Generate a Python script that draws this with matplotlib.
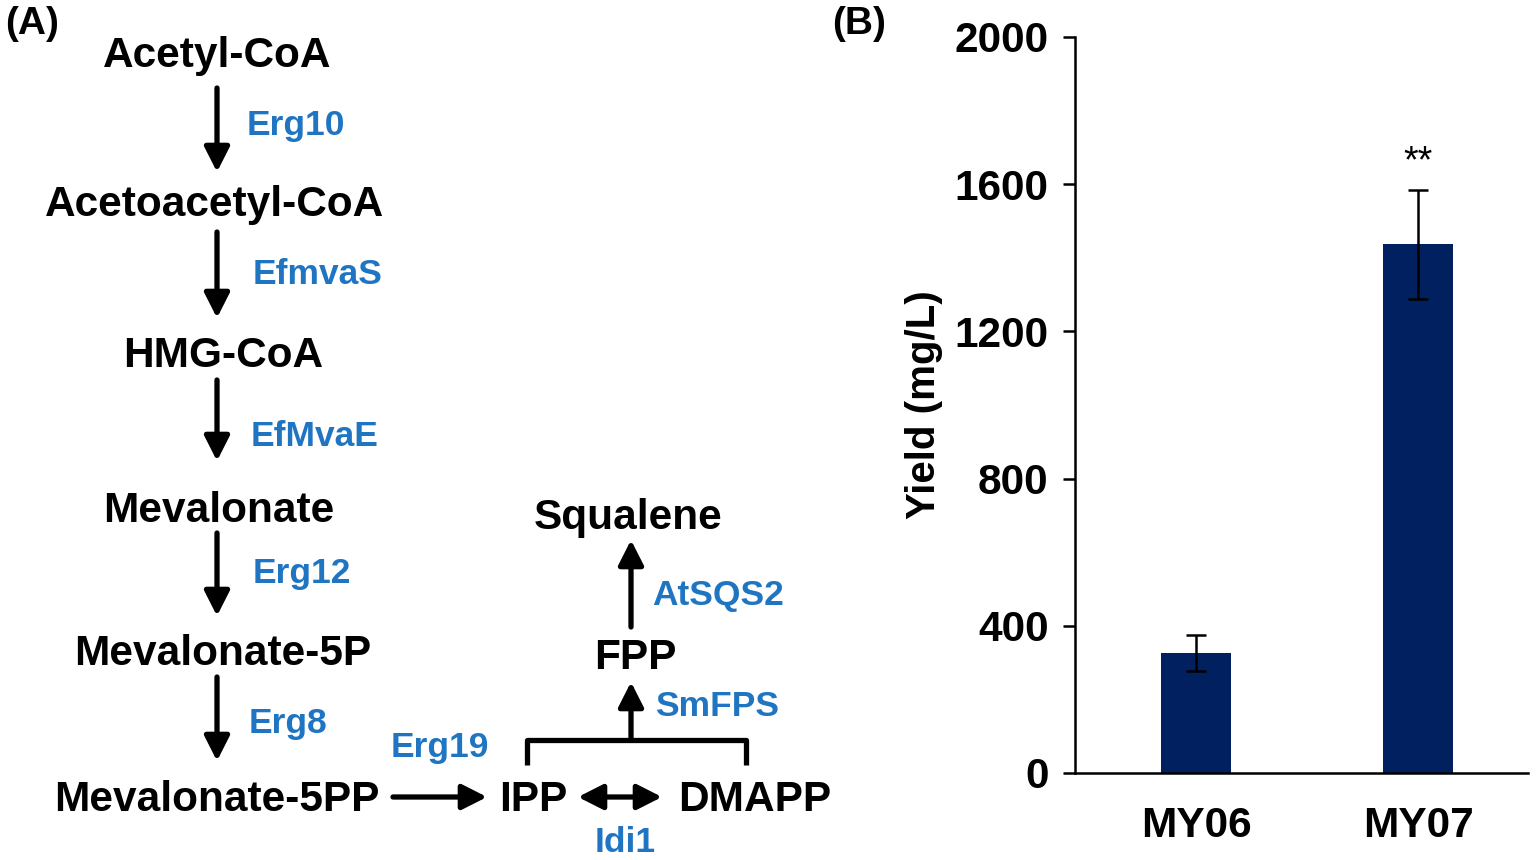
import matplotlib.pyplot as plt

# ---- data for panel (B) ----
strains = ["MY06", "MY07"]
yield_mean = [326, 1437]
yield_err = [50, 148]
yticks = [0, 400, 800, 1200, 1600, 2000]

# ---- pathway for panel (A) ----
metabolites = ["Acetyl-CoA", "Acetoacetyl-CoA", "HMG-CoA", "Mevalonate",
               "Mevalonate-5P", "Mevalonate-5PP", "IPP", "DMAPP", "FPP", "Squalene"]
enzymes = ["Erg10", "EfmvaS", "EfMvaE", "Erg12", "Erg8", "Erg19", "Idi1", "SmFPS", "AtSQS2"]

# layout (pixel coords, origin top-left)
met_pos = [(217, 56), (215, 205), (223, 356), (219, 511), (223, 654),
           (217, 800), (533, 800), (755, 800), (635, 658), (628, 518)]
enz_pos = [(247, 126), (253, 274), (251, 436), (253, 574), (249, 724),
           (391, 747), (625, 842), (655, 707), (652, 595)]
enz_ha = ["left"] * 6 + ["center", "left", "left"]

BLUE = "#1f75c2"
BAR = "#002060"

fig = plt.figure(figsize=(15.36, 8.6), dpi=100)
ax0 = fig.add_axes([0, 0, 1, 1])
ax0.set_xlim(0, 1536)
ax0.set_ylim(860, 0)
ax0.axis("off")

for name, (x, y) in zip(metabolites, met_pos):
    ax0.text(x, y, name, ha="center", va="center", fontsize=30.5,
             fontweight="bold", family="Liberation Sans")
for name, (x, y), ha in zip(enzymes, enz_pos, enz_ha):
    ax0.text(x, y, name, ha=ha, va="center", fontsize=25.5,
             fontweight="bold", color=BLUE, family="Liberation Sans")

arrow_kw = dict(arrowstyle="-|>,head_length=0.75,head_width=0.38", lw=3.8,
                color="black", mutation_scale=20, shrinkA=0, shrinkB=0)
# vertical arrows down the mevalonate pathway
for y0, y1 in [(88, 172), (232, 318), (380, 461), (533, 616), (677, 761)]:
    ax0.annotate("", xy=(217, y1), xytext=(217, y0), arrowprops=arrow_kw)
ax0.annotate("", xy=(487, 797), xytext=(393, 797), arrowprops=arrow_kw)
ax0.annotate("", xy=(662, 797), xytext=(578, 797),
             arrowprops=dict(arrow_kw, arrowstyle="<|-|>,head_length=0.75,head_width=0.38"))
ax0.annotate("", xy=(631, 682), xytext=(631, 740), arrowprops=arrow_kw)
ax0.annotate("", xy=(631, 540), xytext=(631, 627), arrowprops=arrow_kw)
# bracket joining IPP and DMAPP
ax0.plot([527, 527, 746, 746], [765, 740, 740, 765], color="black", lw=3.8,
         solid_joinstyle="round", solid_capstyle="butt")

ax0.text(5, 24, "(A)", ha="left", va="center", fontsize=28, fontweight="bold",
         family="Liberation Sans")
ax0.text(832, 24, "(B)", ha="left", va="center", fontsize=28, fontweight="bold",
         family="Liberation Sans")

# ---- panel (B) bar chart ----
ax = fig.add_axes([1075 / 1536, 87 / 860, 453 / 1536, 736 / 860])
xpos = list(range(len(strains)))
ax.bar(xpos, yield_mean, width=0.315, color=BAR, zorder=2)
ax.errorbar(xpos, yield_mean, yerr=yield_err, fmt="none", ecolor="black",
            elinewidth=1.8, capsize=7, capthick=1.8, zorder=3)
ax.text(1, yield_mean[1] + yield_err[1] + 75, "**", ha="center", va="center",
        fontsize=27, family="Liberation Sans")
ax.set_xlim(-0.545, 1.495)
ax.set_ylim(0, 2000)
ax.set_yticks(yticks)
ax.set_yticklabels([str(t) for t in yticks], fontsize=30.5, fontweight="bold",
                   family="Liberation Sans")
ax.set_xticks(xpos)
ax.set_xticklabels(strains, fontsize=30.5, fontweight="bold", family="Liberation Sans")
ax.tick_params(axis="y", direction="out", length=9, width=1.8, pad=10)
ax.tick_params(axis="x", length=0, pad=24)
ax.spines["top"].set_visible(False)
ax.spines["right"].set_visible(False)
ax.spines["left"].set_linewidth(1.8)
ax.spines["bottom"].set_linewidth(1.8)
ax.set_ylabel("Yield (mg/L)", fontsize=29, fontweight="bold",
              family="Liberation Sans", labelpad=8)

fig.savefig("out.png", dpi=100)
